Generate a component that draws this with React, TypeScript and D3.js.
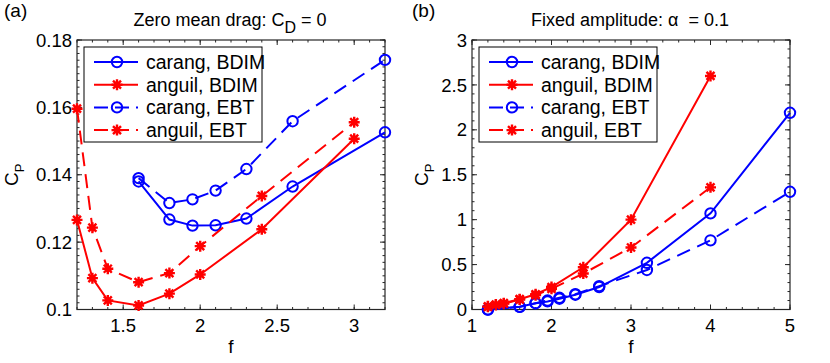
import React from 'react';
import * as d3 from 'd3';

// panel (a): zero mean drag
const carangFA = [1.6, 1.8, 1.95, 2.1, 2.3, 2.6, 3.2];
const carangBdimA = [0.138, 0.1267, 0.1249, 0.125, 0.127, 0.1365, 0.1526];
const carangEbtA = [0.139, 0.1316, 0.1327, 0.1353, 0.1417, 0.1559, 0.1741];
const anguilFA = [1.2, 1.3, 1.4, 1.6, 1.8, 2.0, 2.4, 3.0];
const anguilBdimA = [0.1266, 0.1093, 0.1027, 0.1012, 0.1047, 0.1104, 0.1238, 0.1507];
const anguilEbtA = [0.1596, 0.1243, 0.1121, 0.1081, 0.1108, 0.1188, 0.1337, 0.1556];

// panel (b): fixed amplitude
const carangFB = [1.2, 1.6, 1.8, 1.95, 2.1, 2.3, 2.6, 3.2, 4, 5];
const carangBdimB = [0.0, 0.03, 0.07, 0.09, 0.12, 0.165, 0.25, 0.52, 1.07, 2.19];
const carangEbtB = [0.0, 0.03, 0.07, 0.1, 0.13, 0.17, 0.26, 0.44, 0.77, 1.31];
const anguilFB = [1.2, 1.3, 1.4, 1.6, 1.8, 2.0, 2.4, 3.0, 4.0];
const anguilBdimB = [0.035, 0.055, 0.07, 0.115, 0.17, 0.25, 0.47, 1.0, 2.6];
const anguilEbtB = [0.03, 0.05, 0.065, 0.11, 0.16, 0.23, 0.4, 0.69, 1.36];

const legendLabels = ['carang, BDIM', 'anguil, BDIM', 'carang, EBT', 'anguil, EBT'];

const xTicksA = [1.5, 2, 2.5, 3];
const yTicksA = [0.1, 0.12, 0.14, 0.16, 0.18];
const xTicksB = [1, 2, 3, 4, 5];
const yTicksB = [0, 0.5, 1, 1.5, 2, 2.5, 3];

const FONT = '"Liberation Sans", Arial, sans-serif';
const BLUE = '#0000ff';
const RED = '#ff0000';
const AXIS = '#262626';
const DASH = '14,8';

type Series = { f: number[]; v: number[]; color: string; dashed: boolean; marker: 'o' | '*' };

const STAR = 'M-5.5,0H5.5M0,-5.5V5.5M-4,-4L4,4M-4,4L4,-4';

function Marker({ x, y, kind, color }: { x: number; y: number; kind: string; color: string }) {
  if (kind === 'o') {
    return <circle cx={x} cy={y} r={5.2} fill="none" stroke={color} strokeWidth={2} />;
  }
  return (
    <g transform={`translate(${x},${y})`}>
      <circle r={3} fill={color} />
      <path d={STAR} stroke={color} strokeWidth={2.4} fill="none" />
    </g>
  );
}

function Panel(props: {
  left: number; right: number; top: number; bottom: number;
  xDomain: [number, number]; yDomain: [number, number];
  xTicks: number[]; yTicks: number[]; xMinor: number; yMinor: number;
  series: Series[];
  legendX: number;
  tag: string; tagX: number;
  title: React.ReactNode; titleX: number;
  ylabelX: number;
}) {
  const { left, right, top, bottom } = props;
  const x = d3.scaleLinear().domain(props.xDomain).range([left, right]);
  const y = d3.scaleLinear().domain(props.yDomain).range([bottom, top]);
  const line = d3.line<[number, number]>().x(d => x(d[0])).y(d => y(d[1]));
  const fmt = d3.format('~g');

  const xMinorTicks = d3.range(
    Math.round(props.xDomain[0] / props.xMinor),
    Math.round(props.xDomain[1] / props.xMinor) + 1
  ).map(i => i * props.xMinor);
  const yMinorTicks = d3.range(
    Math.round(props.yDomain[0] / props.yMinor),
    Math.round(props.yDomain[1] / props.yMinor) + 1
  ).map(i => i * props.yMinor);

  const rowY = (i: number) => top + 22 + i * 22.7;

  return (
    <g fontFamily={FONT}>
      {/* minor ticks */}
      {xMinorTicks.map((t, i) => (
        <g key={'xm' + i} stroke={AXIS} strokeWidth={1}>
          <line x1={x(t)} x2={x(t)} y1={bottom} y2={bottom - 2.5} />
          <line x1={x(t)} x2={x(t)} y1={top} y2={top + 2.5} />
        </g>
      ))}
      {yMinorTicks.map((t, i) => (
        <g key={'ym' + i} stroke={AXIS} strokeWidth={1}>
          <line x1={left} x2={left + 2.5} y1={y(t)} y2={y(t)} />
          <line x1={right} x2={right - 2.5} y1={y(t)} y2={y(t)} />
        </g>
      ))}
      {/* major ticks + labels */}
      {props.xTicks.map((t, i) => (
        <g key={'x' + i}>
          <line x1={x(t)} x2={x(t)} y1={bottom} y2={bottom - 5} stroke={AXIS} />
          <line x1={x(t)} x2={x(t)} y1={top} y2={top + 5} stroke={AXIS} />
          <text x={x(t)} y={332} fontSize={18.5} textAnchor="middle" fill="#000">{fmt(t)}</text>
        </g>
      ))}
      {props.yTicks.map((t, i) => (
        <g key={'y' + i}>
          <line x1={left} x2={left + 5} y1={y(t)} y2={y(t)} stroke={AXIS} />
          <line x1={right} x2={right - 5} y1={y(t)} y2={y(t)} stroke={AXIS} />
          <text x={left - 5} y={y(t)} dy="0.36em" fontSize={18.5} textAnchor="end" fill="#000">{fmt(t)}</text>
        </g>
      ))}
      <rect x={left} y={top} width={right - left} height={bottom - top} fill="none" stroke={AXIS} strokeWidth={1.2} />

      {/* data */}
      {props.series.map((s, k) => {
        const pts = s.f.map((f, i) => [f, s.v[i]] as [number, number]);
        return (
          <g key={'s' + k}>
            <path d={line(pts) || ''} fill="none" stroke={s.color} strokeWidth={2} strokeDasharray={s.dashed ? DASH : undefined} />
            {pts.map((p, i) => <Marker key={i} x={x(p[0])} y={y(p[1])} kind={s.marker} color={s.color} />)}
          </g>
        );
      })}

      {/* legend */}
      <rect x={props.legendX} y={top + 7} width={178} height={95} fill="#fff" stroke="#000" strokeWidth={1} />
      {props.series.map((s, i) => (
        <g key={'l' + i}>
          <line x1={props.legendX + 10} x2={props.legendX + 54} y1={rowY(i)} y2={rowY(i)} stroke={s.color} strokeWidth={2} strokeDasharray={s.dashed ? '14,7' : undefined} />
          <Marker x={props.legendX + 33} y={rowY(i)} kind={s.marker} color={s.color} />
          <text x={props.legendX + 62} y={rowY(i)} dy="0.36em" fontSize={19.5} fill="#000">{legendLabels[i]}</text>
        </g>
      ))}

      {/* labels */}
      <text x={props.tagX} y={17} fontSize={19} fill="#000">{props.tag}</text>
      <text x={props.titleX} y={26} fontSize={18} textAnchor="middle" fill="#000" style={{ whiteSpace: 'pre' }}>{props.title}</text>
      <text x={(left + right) / 2} y={353} fontSize={19} textAnchor="middle" fill="#000">f</text>
      <text transform={`translate(${props.ylabelX},${(top + bottom) / 2}) rotate(-90)`} fontSize={19} textAnchor="middle" fill="#000">
        C<tspan fontSize={13} dy={6}>P</tspan>
      </text>
    </g>
  );
}

export default function App() {
  const seriesA: Series[] = [
    { f: carangFA, v: carangBdimA, color: BLUE, dashed: false, marker: 'o' },
    { f: anguilFA, v: anguilBdimA, color: RED, dashed: false, marker: '*' },
    { f: carangFA, v: carangEbtA, color: BLUE, dashed: true, marker: 'o' },
    { f: anguilFA, v: anguilEbtA, color: RED, dashed: true, marker: '*' },
  ];
  const seriesB: Series[] = [
    { f: carangFB, v: carangBdimB, color: BLUE, dashed: false, marker: 'o' },
    { f: anguilFB, v: anguilBdimB, color: RED, dashed: false, marker: '*' },
    { f: carangFB, v: carangEbtB, color: BLUE, dashed: true, marker: 'o' },
    { f: anguilFB, v: anguilEbtB, color: RED, dashed: true, marker: '*' },
  ];
  return (
    <svg width={830} height={363} style={{ position: 'absolute', left: 0, top: 0, background: '#fff' }}>
      <rect width={830} height={363} fill="#fff" />
      <Panel
        left={77} right={385} top={40} bottom={309.5}
        xDomain={[1.2, 3.2]} yDomain={[0.1, 0.18]}
        xTicks={xTicksA} yTicks={yTicksA} xMinor={0.1} yMinor={0.002}
        series={seriesA}
        legendX={84}
        tag="(a)" tagX={4}
        title={<>Zero mean drag: C<tspan fontSize={16} dy={7}>D</tspan><tspan dy={-7}> = 0</tspan></>}
        titleX={230}
        ylabelX={18}
      />
      <Panel
        left={472} right={790} top={40} bottom={309.5}
        xDomain={[1, 5]} yDomain={[0, 3]}
        xTicks={xTicksB} yTicks={yTicksB} xMinor={0.2} yMinor={0.1}
        series={seriesB}
        legendX={479}
        tag="(b)" tagX={412}
        title={<>Fixed amplitude: α  = 0.1</>}
        titleX={630}
        ylabelX={428}
      />
    </svg>
  );
}
